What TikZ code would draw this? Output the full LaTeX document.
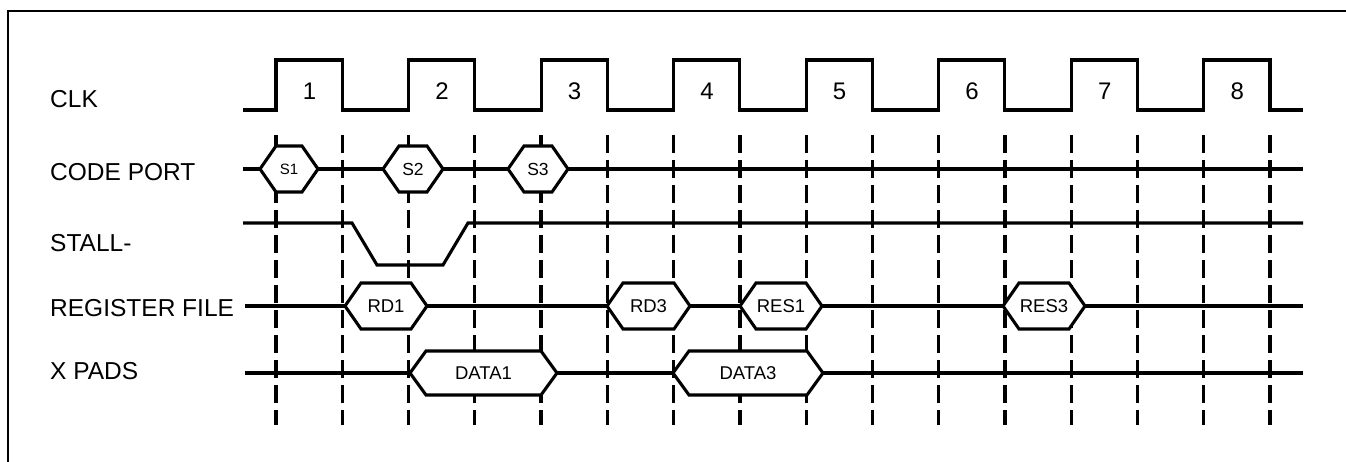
\documentclass[tikz,border=0pt]{standalone}
\usepackage{fontspec}
\setmainfont{Liberation Sans}
\usetikzlibrary{positioning}

\begin{document}
\begin{tikzpicture}[x=1pt,y=-1pt,
    sig/.style={line width=3.1pt},
    frame/.style={line width=2.8pt},
    guide/.style={line width=3.2pt,dash pattern=on 18pt off 7pt},
    busbox/.style={sig,fill=white},
    siglabel/.style={anchor=west,inner sep=0pt,font=\fontsize{24.5}{28}\selectfont},
    buslabel/.style={inner sep=0pt},
    cyclabel/.style={inner sep=0pt,font=\fontsize{24}{28}\selectfont}]
    \useasboundingbox (0,0) rectangle (1346,462);

    % frame, cut at right and bottom
    \draw[frame] (1346,11) -- (8,11) -- (8,462);

    \node[siglabel] (clk) at (50,99) {CLK};
    \node[siglabel] (code) at (50,172) {CODE PORT};
    \node[siglabel] (stall) at (50,243) {STALL-};
    \node[siglabel] (regfile) at (50,308) {REGISTER FILE};
    \node[siglabel] (xpads) at (50,371) {X PADS};

    % one dashed line per clock edge
    \foreach \i in {0,...,15}
    \draw[guide] ({276+66.27*\i},135) -- ({276+66.27*\i},425);

    % clock
    \draw[sig] (243,110) \foreach \k in {0,...,7} { -- ({276+132.53*\k},110) -- ++(0,-50) -- ++(66.27,0) -- ++(0,50) } -- (1303,110);
    \foreach \k in {1,...,8}
    \node[cyclabel] (cyc\k) at ({309.5+132.53*(\k-1)},91) {\k};

    % signal lines
    \draw[sig] (243,169) -- (1303,169);
    \draw[sig] (243,223) -- (352,223) -- (377,265) -- (443,265) -- (468,223) -- (1303,223);
    \draw[sig] (245,306) -- (1303,306);
    \draw[sig] (245,373) -- (1303,373);

    % bus values
    \foreach \nm/\xa/\xb/\yy/\hh/\fs/\txt in {s1/260/318/169/23/15/S1, s2/383/443/169/23/17.5/S2, s3/508/568/169/23/17.5/S3, rd1/345/427/306/23/18.5/RD1, rd3/607/690/306/23/18.5/RD3, res1/740/822/306/23/18.5/RES1, res3/1003/1085/306/23/18.5/RES3, data1/410/557/373/22/18.5/DATA1, data3/673/823/373/22/18.5/DATA3}
    {
      \draw[busbox] (\xa,\yy) -- ({\xa+16},{\yy-\hh}) -- ({\xb-16},{\yy-\hh}) -- (\xb,\yy)
        -- ({\xb-16},{\yy+\hh}) -- ({\xa+16},{\yy+\hh}) -- cycle;
      \node[buslabel,font=\fontsize{\fs}{\fs}\selectfont] (\nm) at ({(\xa+\xb)/2},\yy) {\txt};
    }

\end{tikzpicture}
\end{document}
